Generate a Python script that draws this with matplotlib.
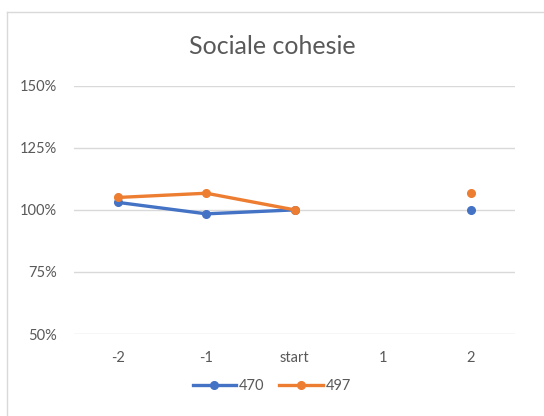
import matplotlib
matplotlib.use("Agg")
import matplotlib.pyplot as plt
import numpy as np

categories = ["-2", "-1", "start", "1", "2"]
s470 = [103.0, 98.4, 100.0, np.nan, 100.0]
s497 = [105.0, 106.7, 100.0, np.nan, 106.7]
y_ticks = [50, 75, 100, 125, 150]

plt.rcParams["font.family"] = ["Lato", "DejaVu Sans"]

fig = plt.figure(figsize=(5.44, 4.16), dpi=100)
ax = fig.add_axes([0.136, 0.197, 0.811, 0.597])

x = np.arange(len(categories))
ax.plot(x, s470, color="#4472C4", lw=2.4, marker="o", ms=5.5, label="470", zorder=3)
ax.plot(x, s497, color="#ED7D31", lw=2.4, marker="o", ms=5.5, label="497", zorder=3)

ax.set_xlim(-0.5, len(categories) - 0.5)
ax.set_ylim(50, 150)
ax.set_xticks(x)
ax.set_xticklabels(categories)
ax.set_yticks(y_ticks)
ax.set_yticklabels([f"{v}%" for v in y_ticks])
ax.grid(axis="y", color="#D9D9D9", lw=1)
ax.set_axisbelow(True)
for s in ax.spines.values():
    s.set_visible(False)
ax.tick_params(length=0, colors="#595959", labelsize=10.5, pad=12)
ax.tick_params(axis="x", pad=12)

fig.text(0.5, 0.888, "Sociale cohesie", ha="center", va="center",
         fontsize=18, color="#595959")

leg = fig.legend(loc="center", bbox_to_anchor=(0.5, 0.073), ncol=2, frameon=False,
                 fontsize=10.5, handlelength=3.0, handletextpad=0.2, columnspacing=1.0)
for t in leg.get_texts():
    t.set_color("#595959")

# chart area border
fig.add_artist(plt.Line2D([7 / 544, 7 / 544], [0, 1 - 12 / 416], transform=fig.transFigure,
                          color="#D9D9D9", lw=1))
fig.add_artist(plt.Line2D([7 / 544, 1], [1 - 12 / 416, 1 - 12 / 416], transform=fig.transFigure,
                          color="#D9D9D9", lw=1))

fig.savefig("out.png", dpi=100)
